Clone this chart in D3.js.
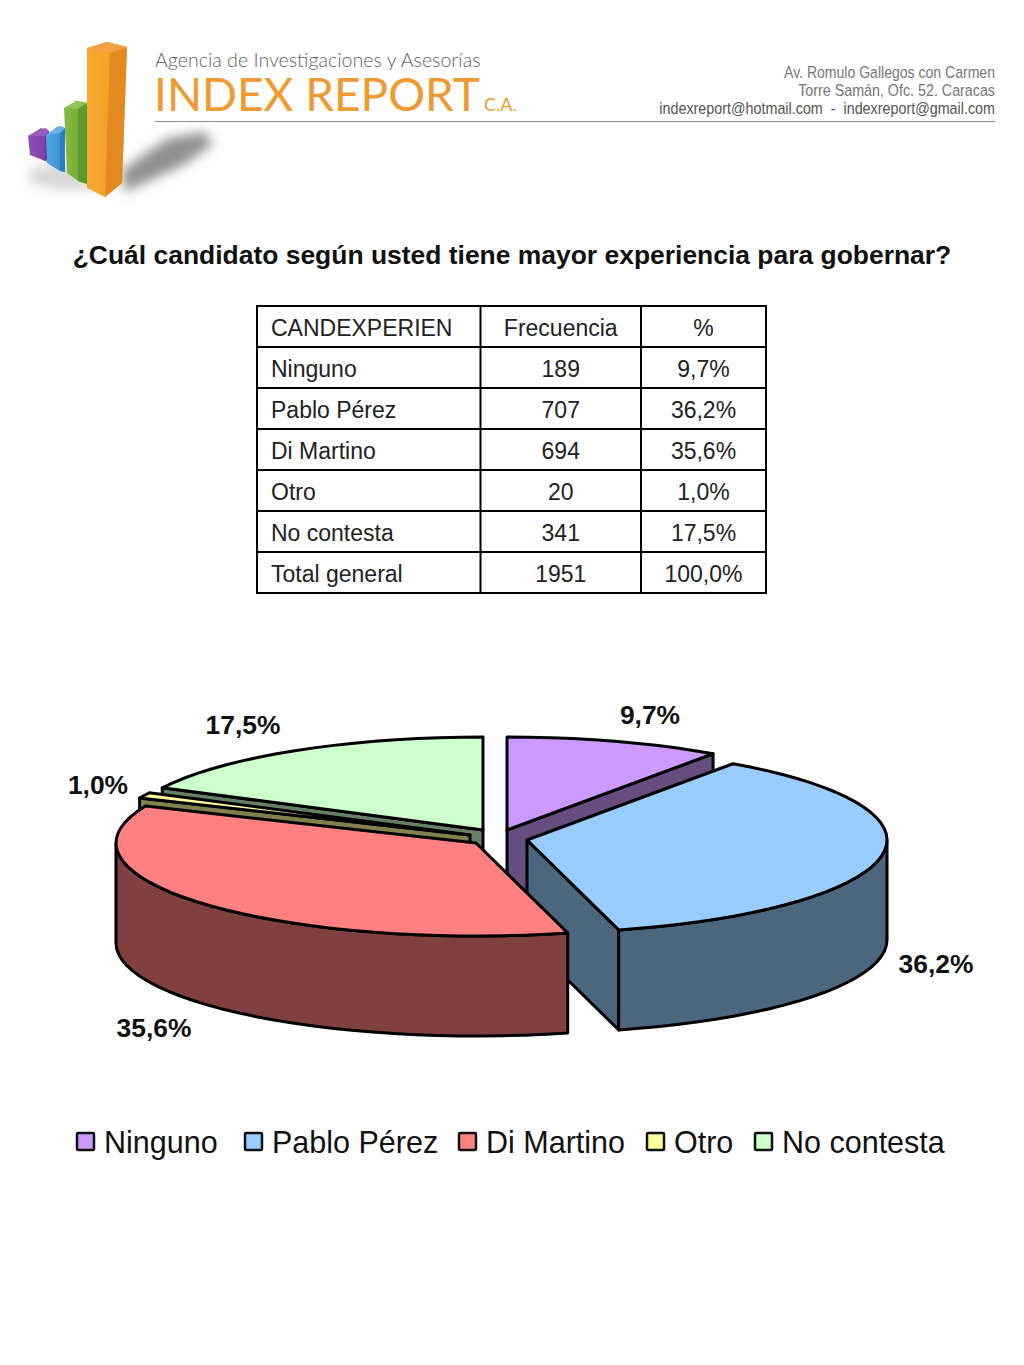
<!DOCTYPE html>
<html>
<head>
<meta charset="utf-8">
<script src="https://cdnjs.cloudflare.com/ajax/libs/d3/7.8.5/d3.min.js"></script>
<style>
  html, body { margin: 0; padding: 0; background: #fff; }
  svg { display: block; }
  text { font-family: "Liberation Sans", sans-serif; }
</style>
</head>
<body>
<div id="chart"></div>
<script>
// values
var categories = ["Ninguno", "Pablo Pérez", "Di Martino", "Otro", "No contesta"];
var frequencies = [189, 707, 694, 20, 341];
var percentLabels = ["9,7%", "36,2%", "35,6%", "1,0%", "17,5%"];
var shares = [9.7, 36.2, 35.6, 1.0, 17.5];
var tableHeader = ["CANDEXPERIEN", "Frecuencia", "%"];
var tableTotal = ["Total general", "1951", "100,0%"];

var topColors = ["#cc99ff", "#99ccff", "#ff8080", "#ffff99", "#ccffcc"];
var sideColors = ["#664d80", "#4d6680", "#804040", "#80804d", "#668066"];

var width = 1024, height = 1365;

var svg = d3.select("#chart").append("svg")
    .attr("width", width)
    .attr("height", height)
    .attr("viewBox", "0 0 " + width + " " + height);

var defs = svg.append("defs");

function addGradient(id, c1, c2) {
    var g = defs.append("linearGradient").attr("id", id)
        .attr("x1", 0).attr("x2", 1).attr("y1", 0).attr("y2", 0);
    g.append("stop").attr("offset", 0).attr("stop-color", c1);
    g.append("stop").attr("offset", 1).attr("stop-color", c2);
}
addGradient("gOrange", "#f7a92f", "#f09a22");
addGradient("gGreen", "#86ba40", "#6fa836");
addGradient("gBlue", "#4fa6e0", "#3a8fd0");
addGradient("gPurple", "#8f50b5", "#7a3ea0");

defs.append("filter").attr("id", "blur").attr("x", "-30%").attr("y", "-30%")
    .attr("width", "160%").attr("height", "160%")
    .append("feGaussianBlur").attr("stdDeviation", 6);

// ---- logo / letterhead
var logo = svg.append("g");

logo.append("path")
    .attr("d", "M122,170 L168,138 L205,132 L213,144 L182,166 L124,192 Z")
    .attr("fill", "#909090")
    .attr("filter", "url(#blur)");
logo.append("ellipse")
    .attr("cx", 72).attr("cy", 176).attr("rx", 45).attr("ry", 14)
    .attr("fill", "#d8d8d8")
    .attr("filter", "url(#blur)");

var logoBars = [
    {front: "28,136 45,128 49,131 49,160 45,161 30,155", side: "45,133 49,131 49,160 45,161", top: "28,136 41,128 49,131 45,136", fill: "url(#gPurple)", dark: "#6f3496", light: "#9a5cc0"},
    {front: "46,135 60,126 65,128 65,172 60,171 47,163", side: "60,132 65,128 65,172 60,171", top: "46,135 58,126 65,128 60,133", fill: "url(#gBlue)", dark: "#2f7fc0", light: "#66b4e8"},
    {front: "64,108 78,101 87,103 87,184 78,181 67,173", side: "78,108 87,103 87,184 78,181", top: "64,108 76,101 87,103 78,109", fill: "url(#gGreen)", dark: "#5f9a2e", light: "#8fc450"},
    {front: "87,48 107,42 127,47 122,183 105,197 87,188", side: "110,52 127,47 122,183 105,197", top: "87,48 107,42 127,47 110,53", fill: "url(#gOrange)", dark: "#e28a20", light: "#f2a040"}
];
var barG = logo.selectAll("g.bar").data(logoBars).enter().append("g").attr("class", "bar");
barG.append("polygon").attr("points", function (d) { return d.front; })
    .attr("fill", function (d) { return d.fill; });
barG.append("polygon").attr("points", function (d) { return d.side; })
    .attr("fill", function (d) { return d.dark; });
barG.append("polygon").attr("points", function (d) { return d.top; })
    .attr("fill", function (d) { return d.light; });

logo.append("text").attr("x", 155).attr("y", 67)
    .style("font-family", "Lato, sans-serif").style("font-weight", 300)
    .style("font-size", "19.6px").attr("fill", "#5f5f5f")
    .text("Agencia de Investigaciones y Asesorías");
logo.append("text").attr("x", 154).attr("y", 111)
    .style("font-family", "Lato, sans-serif")
    .style("font-size", "46px").attr("fill", "#f09a30")
    .text("INDEX REPORT");
logo.append("text").attr("x", 484).attr("y", 111)
    .style("font-family", "Lato, sans-serif").style("font-size", "18px")
    .attr("fill", "#f09a30")
    .text("C.A.");

// condensed by scaling, there is no narrow face installed
var addressLines = [
    {t: "Av. Romulo Gallegos con Carmen", y: 78, sx: 0.827},
    {t: "Torre Samán, Ofc. 52. Caracas", y: 96, sx: 0.841},
    {t: "indexreport@hotmail.com  -  indexreport@gmail.com", y: 114, sx: 0.843}
];
logo.selectAll("text.addr").data(addressLines).enter().append("text")
    .attr("class", "addr")
    .attr("transform", function (d) { return "translate(995," + d.y + ") scale(" + d.sx + ",1)"; })
    .attr("text-anchor", "end")
    .style("white-space", "pre")
    .style("font-size", "17px")
    .attr("fill", function (d, i) { return i === 2 ? "#555" : "#777"; })
    .text(function (d) { return d.t; });

logo.append("line")
    .attr("x1", 155).attr("x2", 995)
    .attr("y1", 121.5).attr("y2", 121.5)
    .attr("stroke", "#8c8c8c").attr("stroke-width", 1.2);

// ---- title
svg.append("text")
    .attr("x", 512).attr("y", 264)
    .attr("text-anchor", "middle")
    .style("font-size", "26.45px").style("font-weight", "bold")
    .attr("fill", "#111")
    .text("¿Cuál candidato según usted tiene mayor experiencia para gobernar?");

// ---- table
var tableRows = [tableHeader]
    .concat(categories.map(function (c, i) {
        return [c, String(frequencies[i]), percentLabels[i]];
    }))
    .concat([tableTotal]);

var rowScale = d3.scaleBand()
    .domain(d3.range(tableRows.length))
    .range([306, 593]);
var colEdges = [257, 480.5, 641, 766];

var table = svg.append("g");
var rowG = table.selectAll("g").data(tableRows).enter().append("g");

rowG.selectAll("text").data(function (d, i) {
    return d.map(function (v, j) { return {v: v, j: j, i: i}; });
}).enter().append("text")
    .attr("x", function (d) {
        return d.j === 0 ? colEdges[0] + 14 : (colEdges[d.j] + colEdges[d.j + 1]) / 2;
    })
    .attr("y", function (d) { return rowScale(d.i) + rowScale.bandwidth() / 2 + 9; })
    .attr("text-anchor", function (d) { return d.j === 0 ? "start" : "middle"; })
    .style("font-size", "23px")
    .attr("fill", "#222")
    .text(function (d) { return d.v; });

table.selectAll("line.h").data(d3.range(tableRows.length + 1)).enter().append("line")
    .attr("x1", colEdges[0] - 1).attr("x2", colEdges[3] + 1)
    .attr("y1", function (i) { return 306 + i * rowScale.bandwidth(); })
    .attr("y2", function (i) { return 306 + i * rowScale.bandwidth(); })
    .attr("stroke", "#000").attr("stroke-width", 2);
table.selectAll("line.v").data(colEdges).enter().append("line")
    .attr("x1", function (d) { return d; }).attr("x2", function (d) { return d; })
    .attr("y1", 305).attr("y2", 594)
    .attr("stroke", "#000").attr("stroke-width", 2);

// ---- 3d pie
var rx = 360, ry = 93, depth = 100;

// where each exploded wedge has its tip
var wedgeTips = [[507, 830], [527, 840], [476, 843], [470, 835], [483, 830]];
// painter's order, back to front
var drawOrder = [4, 3, 0, 1, 2];
var labelPos = [[650, 724], [936, 973], [154, 1037], [98, 794], [243, 734]];

var arcs = d3.pie().sort(null).value(function (d) { return d; })(shares);

function rimPoint(tip, a, dy) {
    return [tip[0] + rx * Math.sin(a), tip[1] - ry * Math.cos(a) + (dy || 0)];
}
function rimPoints(tip, a0, a1, dy) {
    var n = Math.max(1, Math.round((a1 - a0) / 0.06));
    return d3.range(n + 1).map(function (k) {
        return rimPoint(tip, a0 + (a1 - a0) * k / n, dy);
    });
}
var line = d3.line();

var pieG = svg.append("g")
    .attr("stroke", "#000").attr("stroke-width", 3).attr("stroke-linejoin", "round");

function drawWall(g, tip, a, color) {
    var p = rimPoint(tip, a);
    g.append("path")
        .attr("d", line([tip, p, [p[0], p[1] + depth], [tip[0], tip[1] + depth]]) + "Z")
        .attr("fill", color);
}

drawOrder.forEach(function (i) {
    var tip = wedgeTips[i], a0 = arcs[i].startAngle, a1 = arcs[i].endAngle;
    var g = pieG.append("g");

    // only walls that face the viewer
    if (-Math.sin(a0) > 0.001) drawWall(g, tip, a0, sideColors[i]);
    if (Math.sin(a1) > 0.001) drawWall(g, tip, a1, sideColors[i]);

    var f0 = Math.max(a0, Math.PI / 2), f1 = Math.min(a1, Math.PI * 1.5);
    if (f1 > f0) {
        var upper = rimPoints(tip, f0, f1, 0);
        var lower = rimPoints(tip, f0, f1, depth).reverse();
        g.append("path")
            .attr("d", line(upper.concat(lower)) + "Z")
            .attr("fill", sideColors[i]);
    }

    g.append("path")
        .attr("d", line([tip].concat(rimPoints(tip, a0, a1, 0))) + "Z")
        .attr("fill", topColors[i]);
});

svg.selectAll("text.pct").data(percentLabels).enter().append("text")
    .attr("class", "pct")
    .attr("x", function (d, i) { return labelPos[i][0]; })
    .attr("y", function (d, i) { return labelPos[i][1]; })
    .attr("text-anchor", "middle")
    .style("font-size", "26.4px").style("font-weight", "bold")
    .attr("fill", "#111")
    .text(function (d) { return d; });

// ---- legend
var legendX = [77, 245, 459, 647, 755];
var legend = svg.selectAll("g.leg").data(categories).enter().append("g")
    .attr("class", "leg")
    .attr("transform", function (d, i) { return "translate(" + legendX[i] + ",1133)"; });
legend.append("rect")
    .attr("width", 17).attr("height", 17)
    .attr("rx", 1)
    .attr("fill", function (d, i) { return topColors[i]; })
    .attr("stroke", "#111").attr("stroke-width", 2.5);
legend.append("text")
    .attr("x", 27).attr("y", 20)
    .style("font-size", "30.5px")
    .attr("fill", "#111")
    .text(function (d) { return d; });
</script>
</body>
</html>
